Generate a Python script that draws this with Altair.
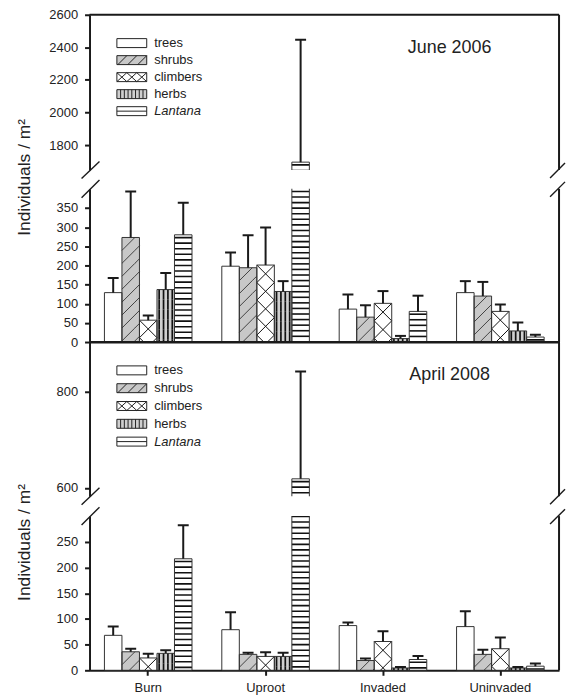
import altair as alt
import pandas as pd

groups = ["Burn", "Uproot", "Invaded", "Uninvaded"]
series = ["trees", "shrubs", "climbers", "herbs", "Lantana"]

# June 2006: bar means and tops of error bars (individuals / m2)
june_trees_mean = [129, 198, 86, 129]
june_trees_upper = [167, 234, 124, 159]
june_shrubs_mean = [273, 194, 65, 120]
june_shrubs_upper = [393, 279, 96, 157]
june_climbers_mean = [57, 201, 101, 80]
june_climbers_upper = [69, 299, 133, 98]
june_herbs_mean = [137, 132, 9, 29]
june_herbs_upper = [180, 159, 16, 51]
june_lantana_mean = [280, 1695, 80, 13]
june_lantana_upper = [364, 2447, 121, 19]

# April 2008
april_trees_mean = [68, 79, 87, 85]
april_trees_upper = [85, 113, 93, 115]
april_shrubs_mean = [36, 31, 19, 31]
april_shrubs_upper = [42, 34, 23, 40]
april_climbers_mean = [24, 27, 56, 42]
april_climbers_upper = [32, 35, 76, 64]
april_herbs_mean = [33, 27, 4.5, 4.5]
april_herbs_upper = [39, 34, 6.5, 6.5]
april_lantana_mean = [217, 619, 21, 8]
april_lantana_upper = [282, 841, 28, 13]

june_upper_ticks = [1800, 2000, 2200, 2400, 2600]
june_lower_ticks = [0, 50, 100, 150, 200, 250, 300, 350]
april_upper_ticks = [600, 800]
april_lower_ticks = [0, 50, 100, 150, 200, 250]


def make_df(means, uppers):
    rows = []
    for s, m, u in zip(series, means, uppers):
        for g, mv, uv in zip(groups, m, u):
            rows.append({"group": g, "series": s, "mean": mv, "upper": uv})
    return pd.DataFrame(rows)


june_df = make_df(
    [june_trees_mean, june_shrubs_mean, june_climbers_mean, june_herbs_mean, june_lantana_mean],
    [june_trees_upper, june_shrubs_upper, june_climbers_upper, june_herbs_upper, june_lantana_upper],
)
april_df = make_df(
    [april_trees_mean, april_shrubs_mean, april_climbers_mean, april_herbs_mean, april_lantana_mean],
    [april_trees_upper, april_shrubs_upper, april_climbers_upper, april_herbs_upper, april_lantana_upper],
)

W = 472
INK = "#1a1a1a"
X_SCALE = alt.Scale(domain=groups, paddingInner=0.254, paddingOuter=0.127)
XO_SCALE = alt.Scale(domain=series, paddingInner=0, paddingOuter=0)
FILL_SCALE = alt.Scale(domain=series, range=["#ffffff", "#c8c8c8", "#ffffff", "#cfcfcf", "#ffffff"])
LEGEND_PATHS = [
    "M-3,-0.9H3V0.9H-3Z",
    "M-3,-0.9H3V0.9H-3Z M-2.8,0.9L-1.0,-0.9 M-0.8,0.9L1.0,-0.9 M1.2,0.9L3,-0.9",
    "M-3,-0.9H3V0.9H-3Z M-3,-0.9L-1,0.9L1,-0.9L3,0.9 M-3,0.9L-1,-0.9L1,0.9L3,-0.9",
    "M-3,-0.9H3V0.9H-3Z M-2.25,-0.9V0.9 M-1.5,-0.9V0.9 M-0.75,-0.9V0.9 M0,-0.9V0.9 M0.75,-0.9V0.9 M1.5,-0.9V0.9 M2.25,-0.9V0.9",
    "M-3,-0.9H3V0.9H-3Z M-3,0H3",
]
SHAPE_SCALE = alt.Scale(domain=series, range=LEGEND_PATHS)

# fill patterns drawn as tiles (pixel units, symbol size 4 -> 1 unit = 1 px)
PATTERNS = {
    "shrubs": dict(path="M-8.8,6.5L4.2,-6.5M4.2,6.5L8.8,1.9", p=13.0, color="#333333", sw=0.9),
    "climbers": dict(path="M-8.8,-8.8L8.8,8.8M-8.8,8.8L8.8,-8.8", p=17.6, color="#111111", sw=1.0),
    "herbs": dict(path="M-6.6,-5V5M-2.2,-5V5M2.2,-5V5M6.6,-5V5", p=10.0, color="#111111", sw=1.7),
    "Lantana": dict(path="M-8.8,0H8.8", p=5.6, color="#111111", sw=1.6),
}

ONE = alt.Data(values=[{"k": 1}])


def make_legend(row_pad, ly):
    return alt.Legend(
        title=None, orient="none", legendX=36, legendY=ly, symbolSize=100,
        symbolStrokeColor="#222222", symbolStrokeWidth=1, labelFontSize=13,
        labelOffset=16, rowPadding=row_pad, padding=0, labelColor="#222222",
        labelFontStyle={"expr": "datum.label == 'Lantana' ? 'italic' : 'normal'"},
    )


def segment(df, lo, hi, h, ticks, kind, xaxis, label=None, ytitle_y=None, row_pad=3.1, ly=22):
    k = h / (hi - lo)
    ys = alt.Scale(domain=[lo, hi], nice=False, zero=False)
    if ytitle_y is None:
        yaxis = alt.Axis(values=ticks, title=None, format="d")
    else:
        yaxis = alt.Axis(values=ticks, title="Individuals / m²", titleX=-56, titleY=ytitle_y, format="d")
    xe = alt.X("group:N", sort=groups, scale=X_SCALE, axis=xaxis)
    xo = alt.XOffset("series:N", sort=series, scale=XO_SCALE)
    base = alt.Chart(df)
    layers = []
    bar_legend = make_legend(row_pad, ly) if kind == "upper" else None
    layers.append(
        base.mark_bar(clip=True, strokeWidth=0).encode(
            x=xe, xOffset=xo,
            y=alt.Y("mean:Q", scale=ys, axis=yaxis),
            fill=alt.Fill("series:N", scale=FILL_SCALE, legend=bar_legend),
        )
    )
    for s, info in PATTERNS.items():
        d = info["p"] / k
        layers.append(
            base.transform_filter(f"datum.series == '{s}' && datum.mean > {lo}")
            .transform_calculate(idx=f"sequence(0, ceil((datum.mean - {lo}) / {d:.6f}))")
            .transform_flatten(["idx"])
            .transform_calculate(ty=f"datum.mean - {d:.6f} * (datum.idx + 0.5)")
            .mark_point(shape=info["path"], size=4, filled=False, stroke=info["color"],
                        strokeWidth=info["sw"], opacity=1, clip=True)
            .encode(x=xe, xOffset=xo, y=alt.Y("ty:Q", scale=ys, axis=yaxis))
        )
    layers.append(
        base.mark_bar(clip=True, fillOpacity=0, stroke="#333333", strokeWidth=1).encode(
            x=xe, xOffset=xo, y=alt.Y("mean:Q", scale=ys, axis=yaxis)
        )
    )
    layers.append(
        base.mark_rule(clip=True, strokeWidth=2, color=INK).encode(
            x=xe, xOffset=xo, y=alt.Y("mean:Q", scale=ys, axis=yaxis), y2="upper:Q"
        )
    )
    layers.append(
        base.mark_tick(clip=True, orient="horizontal", size=11, thickness=2, color=INK, opacity=1).encode(
            x=xe, xOffset=xo, y=alt.Y("upper:Q", scale=ys, axis=yaxis)
        )
    )
    # frame: right border
    layers.append(
        alt.Chart(ONE).mark_rule(color=INK, strokeWidth=2).encode(
            x=alt.value(W), y=alt.value(0), y2=alt.value(h)
        )
    )
    if kind == "upper":
        layers.append(
            base.mark_point(filled=True, size=100, stroke="#222222", strokeWidth=1, opacity=1, clip=True).encode(
                x=alt.value(-300), y=alt.value(-300),
                fill=alt.Fill("series:N", scale=FILL_SCALE, legend=make_legend(row_pad, ly)),
                shape=alt.Shape("series:N", scale=SHAPE_SCALE, legend=make_legend(row_pad, ly)),
            )
        )
        layers.append(
            alt.Chart(ONE).mark_rule(color=INK, strokeWidth=2).encode(
                x=alt.value(0), x2=alt.value(W), y=alt.value(0)
            )
        )
        layers.append(
            alt.Chart(pd.DataFrame({"label": [label]})).mark_text(
                fontSize=18, align="center", baseline="middle", color="#222222"
            ).encode(x=alt.value(362), y=alt.value(33), text="label:N")
        )
    return alt.layer(*layers).properties(width=W, height=h)


def gap(g):
    marks = []
    for (x1, x2, y1, y2) in [(-8, 10, 8.5, -8.5), (-8, 10, g + 9, g - 9),
                             (W - 9, W + 6, 8, -7), (W - 9, W + 6, g + 8, g - 7)]:
        marks.append(alt.Chart(ONE).mark_rule(color=INK, strokeWidth=1.4).encode(
            x=alt.value(x1), x2=alt.value(x2), y=alt.value(y1), y2=alt.value(y2)))
    return alt.layer(*marks).properties(width=W, height=g)


no_x = None
p1_lower_x = alt.Axis(labels=False, ticks=False, title=None)
p2_lower_x = alt.Axis(title=None, labelAngle=0, bandPosition=0.5, labelPadding=6, labelFontSize=13)

up1 = segment(june_df, 1647, 2600, 156, june_upper_ticks, "upper", no_x, label="June 2006",
              row_pad=3.1, ly=22)
low1 = segment(june_df, 0, 400, 154, june_lower_ticks, "lower", p1_lower_x, ytitle_y=-12)
up2 = segment(april_df, 583, 902, 155, april_upper_ticks, "upper", no_x, label="April 2008",
              row_pad=3.9, ly=22)
low2 = segment(april_df, 0, 300, 155, april_lower_ticks, "lower", p2_lower_x, ytitle_y=26)

chart = (
    alt.vconcat(up1, gap(19), low1, up2, gap(20), low2, spacing=0, bounds="flush")
    .resolve_scale(fill="independent", shape="independent")
    .properties(padding={"left": 16, "top": 7, "right": 0, "bottom": 0})
    .configure(font="Liberation Sans")
    .configure_view(stroke="transparent", strokeWidth=0)
    .configure_axis(
        domainColor=INK, domainWidth=2, tickColor=INK, tickWidth=2, tickSize=5,
        labelFontSize=13, labelColor="#222222", labelPadding=7, grid=False,
        titleFontSize=17.5, titleFontWeight="normal", titleColor="#222222",
    )
)

chart.save("out.html", embed_options={"renderer": "svg", "actions": False})
